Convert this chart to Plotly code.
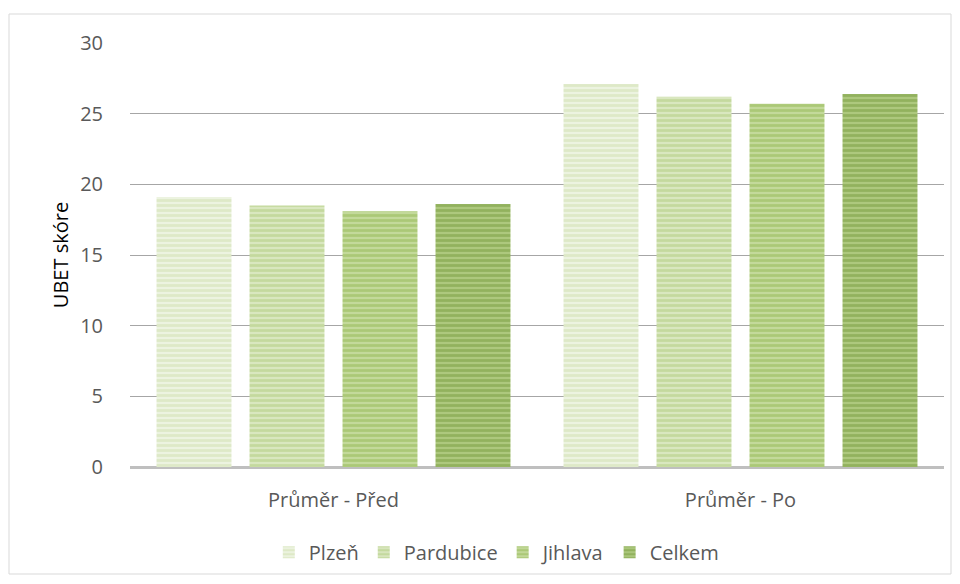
import plotly.graph_objects as go

categories = ["Průměr - Před", "Průměr - Po"]
series_names = ["Plzeň", "Pardubice", "Jihlava", "Celkem"]
plzen = [19.1, 27.1]
pardubice = [18.5, 26.2]
jihlava = [18.1, 25.7]
celkem = [18.6, 26.4]
y_ticks = [0, 5, 10, 15, 20, 25, 30]

values = [plzen, pardubice, jihlava, celkem]
bg_colors = ["#ecf3e0", "#d9e7bf", "#c3d99a", "#adc87d"]
fg_colors = ["#cfdfae", "#b0cb7e", "#94b853", "#779c3e"]

font = "Open Sans, sans-serif"
text_color = "#595959"

fig = go.Figure()
for name, vals, bg, fg in zip(series_names, values, bg_colors, fg_colors):
    fig.add_trace(go.Bar(
        name=name,
        x=categories,
        y=vals,
        marker=dict(
            color=bg,
            line=dict(width=0),
            pattern=dict(shape="-", fgcolor=fg, bgcolor=bg, size=5, solidity=0.55,
                         fillmode="overlay"),
        ),
    ))

# outer chart border, positioned in paper units around the plot area
L, R, T, B = 130, 16, 43, 117
W, H = 960 - L - R, 584 - T - B


def px_x(x):
    return (x - L) / W


def px_y(y):
    return (584 - B - y) / H


fig.add_shape(type="rect", xref="paper", yref="paper",
              x0=px_x(9), x1=px_x(951), y0=px_y(574), y1=px_y(14),
              line=dict(color="#d9d9d9", width=1), fillcolor="rgba(0,0,0,0)",
              layer="below")

fig.update_layout(
    width=960, height=584,
    margin=dict(l=L, r=R, t=T, b=B),
    paper_bgcolor="white",
    plot_bgcolor="white",
    barmode="group",
    bargap=0.086,
    bargroupgap=0.194,
    font=dict(family=font, size=20, color=text_color),
    showlegend=True,
    legend=dict(orientation="h", x=0.45, xanchor="center", y=-0.155, yanchor="top",
                font=dict(size=20, color=text_color), itemwidth=30,
                tracegroupgap=0, traceorder="normal"),
    xaxis=dict(showgrid=False, showline=False, ticks="", ticklabelstandoff=19,
               tickfont=dict(size=20, color=text_color)),
    yaxis=dict(range=[0, 30], tickvals=y_ticks, showgrid=True,
               gridcolor="#a6a6a6", gridwidth=1.2,
               zeroline=True, zerolinecolor="#bfbfbf", zerolinewidth=3,
               showline=False, ticks="", ticklabelstandoff=26,
               tickfont=dict(size=20, color=text_color),
               title=dict(text="UBET skóre", font=dict(size=20, color="#000000"),
                          standoff=6)),
)

fig.write_html("out.html")
